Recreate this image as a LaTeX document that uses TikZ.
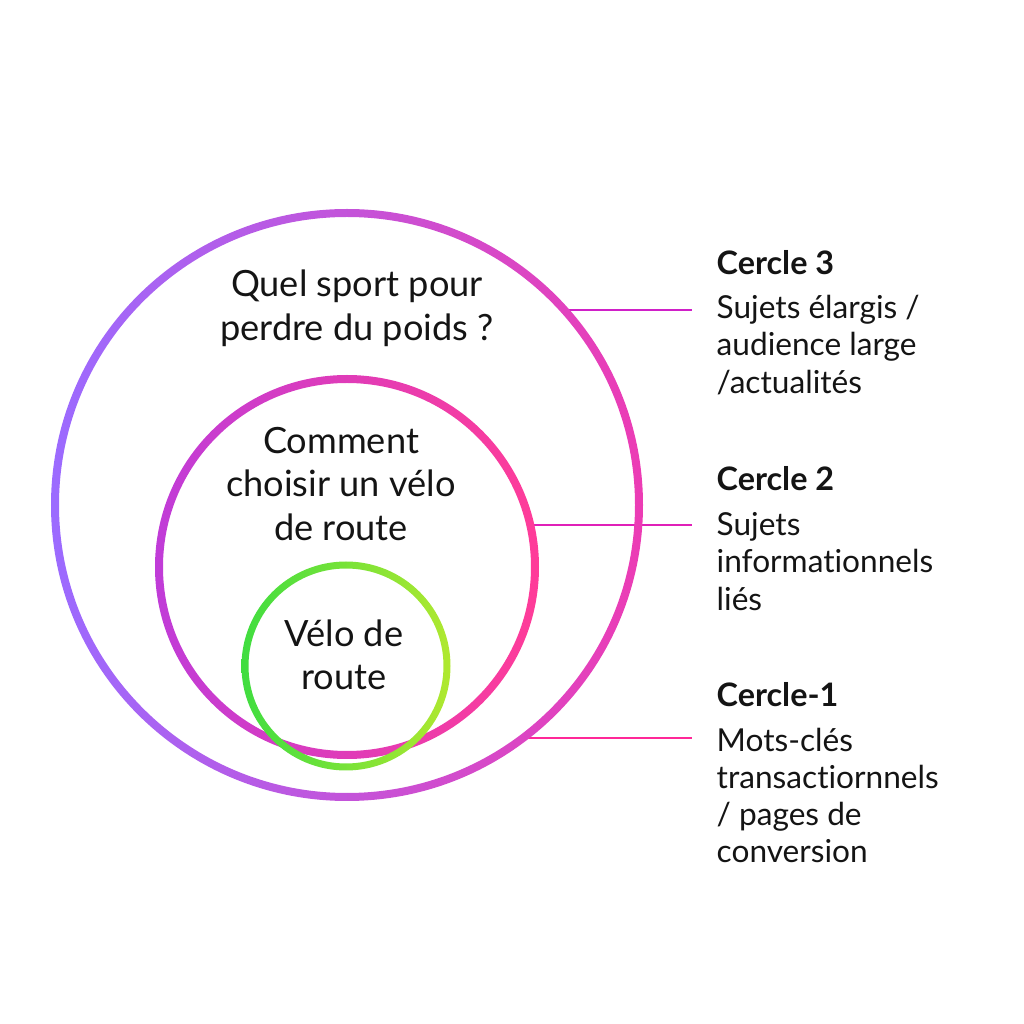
\documentclass[tikz,border=0pt]{standalone}
\usepackage{fontspec}
\setmainfont{Lato}[Ligatures=NoCommon]
\usepackage{tikz}
\usetikzlibrary{positioning, calc}
\usepackage{xcolor}
\definecolor{outerleft}{HTML}{9B6BFF}
\definecolor{outerright}{HTML}{EC3CB4}
\definecolor{midleft}{HTML}{C03CD8}
\definecolor{midright}{HTML}{FF3C98}
\definecolor{innerleft}{HTML}{40DD40}
\definecolor{innerright}{HTML}{B0E830}
\definecolor{linkthree}{HTML}{D020C8}
\definecolor{linktwo}{HTML}{E020B8}
\definecolor{linkone}{HTML}{FF2898}
\definecolor{inktext}{HTML}{141414}

\begin{document}
\begin{tikzpicture}[
        ring/.style={circle, inner sep=0pt, outer sep=0pt, draw=none},
        topic/.style={align=center, text=inktext, font=\fontsize{10.3}{12.4}\selectfont},
        ctitle/.style={anchor=base west, inner sep=0pt, text=inktext, font=\fontsize{9.2}{10.6}\selectfont\bfseries},
        desc/.style={anchor=base west, inner sep=0pt, text=inktext, font=\fontsize{9}{10.6}\selectfont},
        link/.style={line width=0.6pt}
    ]
        \useasboundingbox (0,0) rectangle (10.24,10.24);

        % circles
        \node [ring, minimum size=5.84cm] (outer) at (3.47,5.19) {};
        \node [ring, minimum size=3.76cm] (middle) at (3.47,4.57) {};
        \node [ring, minimum size=2.02cm] (inner) at (3.46,3.58) {};

        % connectors
        \coordinate (rx) at (6.92,0);
        \draw [link, linkthree] (outer.42.6) -- (outer.42.6 -| rx) coordinate (e3);
        \draw [link, linktwo] (middle.13.5) -- (middle.13.5 -| rx) coordinate (e2);
        \draw [link, linkone] (outer.-53.7) -- (outer.-53.7 -| rx) coordinate (e1);

        \shade [left color=outerleft, right color=outerright, even odd rule]
            (outer.center) circle[radius=2.96] (outer.center) circle[radius=2.88];
        \shade [left color=midleft, right color=midright, even odd rule]
            (middle.center) circle[radius=1.92] (middle.center) circle[radius=1.84];
        \shade [left color=innerleft, right color=innerright, even odd rule]
            (inner.center) circle[radius=1.045] (inner.center) circle[radius=0.975];

        \node [topic] (q3) at (3.57,7.16) {Quel sport pour\\perdre du poids ?};
        \node [topic] (q2) at (3.41,5.40) {Comment\\choisir un vélo\\de route};
        \node [topic] (q1) at (3.44,3.69) {Vélo de\\route};

        % legend
        \node [desc] (d3) at ([xshift=0.24cm, yshift=-0.09cm]e3)
            {\begin{tabular}[t]{@{}l@{}}Sujets élargis /\\audience large\\/actualités\end{tabular}};
        \node [ctitle] (t3) at ([yshift=0.44cm]d3.base west) {Cercle 3};
        \node [desc] (d2) at ([xshift=0.24cm, yshift=-0.11cm]e2)
            {\begin{tabular}[t]{@{}l@{}}Sujets\\informationnels\\liés\end{tabular}};
        \node [ctitle] (t2) at ([yshift=0.45cm]d2.base west) {Cercle 2};
        \node [desc] (d1) at ([xshift=0.24cm, yshift=-0.13cm]e1)
            {\begin{tabular}[t]{@{}l@{}}Mots-clés\\transactiornnels\\/ pages de\\conversion\end{tabular}};
        \node [ctitle] (t1) at ([yshift=0.45cm]d1.base west) {Cercle-1};
    \end{tikzpicture}
\end{document}
